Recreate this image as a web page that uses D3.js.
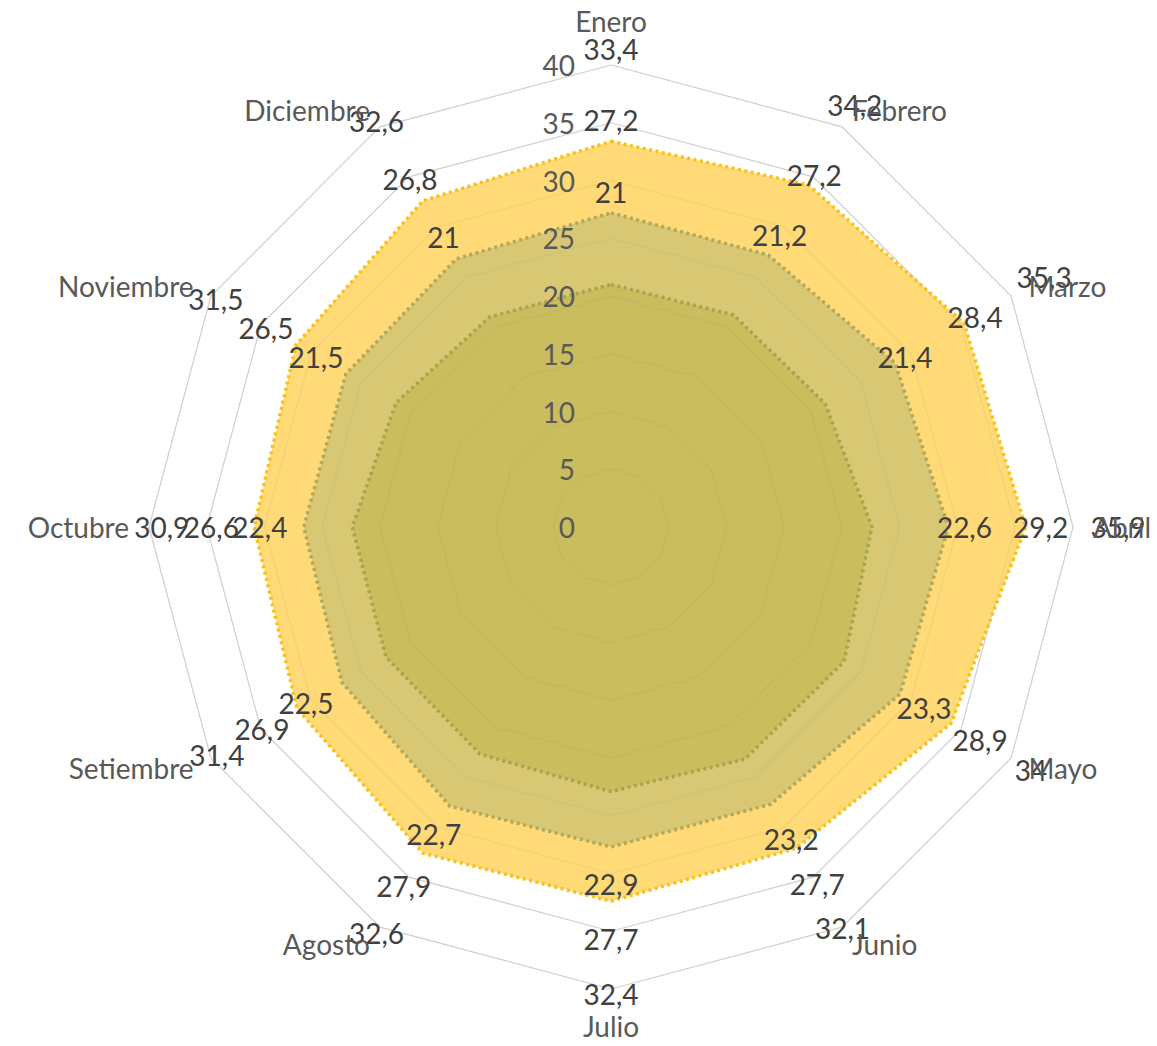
<!DOCTYPE html>
<html>
<head>
<meta charset="utf-8">
<script src="https://cdnjs.cloudflare.com/ajax/libs/d3/7.8.5/d3.min.js"></script>
<style>
	body { margin: 0; background: #fff; }
	text { font-family: Lato, "Open Sans", sans-serif; }
</style>
</head>
<body>
<div id="chart"></div>
<script>

// datos
var meses = ["Enero", "Febrero", "Marzo", "Abril", "Mayo", "Junio",
	"Julio", "Agosto", "Setiembre", "Octubre", "Noviembre", "Diciembre"];
var maximas = [33.4, 34.2, 35.3, 35.9, 34, 32.1, 32.4, 32.6, 31.4, 30.9, 31.5, 32.6];
var medias = [27.2, 27.2, 28.4, 29.2, 28.9, 27.7, 27.7, 27.9, 26.9, 26.6, 26.5, 26.8];
var minimas = [21, 21.2, 21.4, 22.6, 23.3, 23.2, 22.9, 22.7, 22.5, 22.4, 21.5, 21];
var ticks = [0, 5, 10, 15, 20, 25, 30, 35, 40];

// global variables
var svg_w = 1157;
var svg_h = 1046;
var cx = 611;
var cy = 527;
var font_size = 28;

var series = [
	{ valores: maximas, fill: "#ffda76", stroke: "#f7c21a" },
	{ valores: medias, fill: "#d8c873", stroke: "#b2a75a" },
	{ valores: minimas, fill: "#c9bd5e", stroke: "#a8a34f" }
];

var svg = d3.select("#chart")
	.append("svg")
	.attr("width", svg_w)
	.attr("height", svg_h);

var g = svg.append("g")
	.attr("transform", "translate(" + cx + "," + cy + ")");

// escalas
var r_scale = d3.scaleLinear()
	.domain([0, 40])
	.range([0, 462]);

var ang_scale = d3.scalePoint()
	.domain(d3.range(meses.length))
	.range([0, 2 * Math.PI * (meses.length - 1) / meses.length]);

var radial = d3.lineRadial()
	.angle(function(d, i) { return ang_scale(i); })
	.radius(function(d) { return r_scale(d); })
	.curve(d3.curveLinearClosed);

function punto(i, r) {
	var a = ang_scale(i);
	return [r * Math.sin(a), -r * Math.cos(a)];
}

function rejilla(opacidad) {
	g.selectAll(null)
		.data(ticks.slice(1))
		.enter()
		.append("path")
		.attr("d", function(t) {
			return radial(meses.map(function() { return t; }));
		})
		.attr("fill", "none")
		.attr("stroke", "#8c8c8c")
		.attr("stroke-opacity", opacidad)
		.attr("stroke-width", 1.2);
}

// rejilla de fondo
rejilla(0.32);

// poligonos de las series
series.forEach(function(s) {
	g.append("path")
		.attr("d", radial(s.valores))
		.attr("fill", s.fill)
		.attr("stroke", "none");
});

// la rejilla se ve un poco a traves del relleno
rejilla(0.12);

// bordes punteados
series.forEach(function(s) {
	g.append("path")
		.attr("d", radial(s.valores))
		.attr("fill", "none")
		.attr("stroke", s.stroke)
		.attr("stroke-width", 3.5)
		.attr("stroke-dasharray", "3,3.5");
});

// etiquetas del eje
g.selectAll(".tick")
	.data(ticks)
	.enter()
	.append("text")
	.attr("class", "tick")
	.attr("x", -36)
	.attr("y", function(t) { return -r_scale(t); })
	.attr("text-anchor", "end")
	.attr("dominant-baseline", "central")
	.attr("font-size", font_size)
	.attr("fill", "#595959")
	.text(function(t) { return t; });

// etiquetas de datos (desplazadas hacia afuera)
var fmt = function(v) { return String(v).replace(".", ","); };
series.forEach(function(s) {
	g.selectAll(null)
		.data(s.valores)
		.enter()
		.append("text")
		.attr("x", function(d, i) { return punto(i, r_scale(d + 8))[0]; })
		.attr("y", function(d, i) { return punto(i, r_scale(d + 8))[1]; })
		.attr("text-anchor", "middle")
		.attr("dominant-baseline", "central")
		.attr("font-size", font_size)
		.attr("fill", "#404040")
		.text(fmt);
});

// nombres de los meses
function r_mes(i) {
	if (i == 0) { return 506; }
	if (i == 6) { return 499; }
	return 482;
}

g.selectAll(".mes")
	.data(meses)
	.enter()
	.append("text")
	.attr("class", "mes")
	.attr("x", function(d, i) { return punto(i, r_mes(i))[0]; })
	.attr("y", function(d, i) { return punto(i, r_mes(i))[1]; })
	.attr("text-anchor", function(d, i) {
		if (i % 6 == 0) { return "middle"; }
		return i < 6 ? "start" : "end";
	})
	.attr("dominant-baseline", "central")
	.attr("font-size", font_size)
	.attr("fill", "#595959")
	.text(function(d) { return d; });

</script>
</body>
</html>
